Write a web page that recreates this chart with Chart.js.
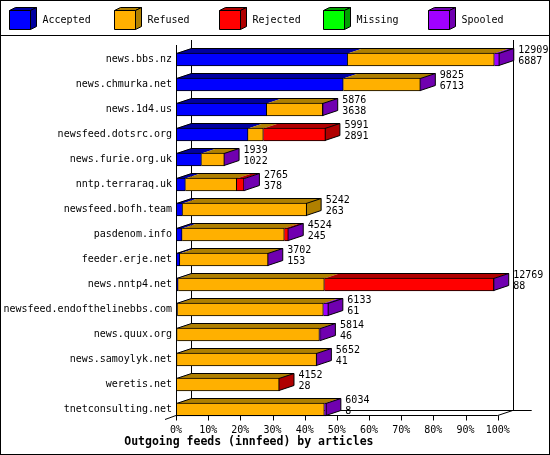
<!DOCTYPE html>
<html>
<head>
<meta charset="utf-8">
<script src="https://cdn.jsdelivr.net/npm/chart.js@4.4.1/dist/chart.umd.min.js"></script>
<style>
  html, body { margin: 0; padding: 0; background: #fff; }
  canvas { display: block; }
</style>
</head>
<body>
<canvas id="feeds" width="550" height="455" style="width:550px;height:455px"></canvas>
<script>
// outgoing feeds, article counts per peer
const hosts = ['news.bbs.nz', 'news.chmurka.net', 'news.1d4.us', 'newsfeed.dotsrc.org',
    'news.furie.org.uk', 'nntp.terraraq.uk', 'newsfeed.bofh.team', 'pasdenom.info',
    'feeder.erje.net', 'news.nntp4.net', 'newsfeed.endofthelinebbs.com', 'news.quux.org',
    'news.samoylyk.net', 'weretis.net', 'tnetconsulting.net'];
const offered  = [12909, 9825, 5876, 5991, 1939, 2765, 5242, 4524, 3702, 12769, 6133, 5814, 5652, 4152, 6034];
const accepted = [6887, 6713, 3638, 2891, 1022, 378, 263, 245, 153, 88, 61, 46, 41, 28, 8];
const refused  = [5886, 3091, 2249, 614, 917, 2056, 4979, 4102, 3539, 5865, 5852, 5710, 5600, 4110, 5945];
const rejected = [0, 0, 0, 2490, 0, 295, 0, 160, 0, 6800, 0, 0, 0, 15, 0];
const missing  = [0, 0, 0, 0, 0, 0, 0, 0, 0, 0, 0, 0, 0, 0, 0];
const spooled  = [200, 20, 20, 0, 10, 36, 0, 17, 10, 16, 200, 58, 11, 0, 80];
const pctTicks = [0, 10, 20, 30, 40, 50, 60, 70, 80, 90, 100];

const seriesNames = ['Accepted', 'Refused', 'Rejected', 'Missing', 'Spooled'];
const faceColors  = ['#0000ff', '#ffb000', '#ff0000', '#00ff00', '#a000ff'];
const shadeColors = ['#0000a0', '#b08000', '#b00000', '#00a000', '#7000b0'];

const maxOffered = Math.max(...offered);
const DX = 15, DY = 5;
const mono = '"DejaVu Sans Mono", monospace';

function poly(c, pts, fill) {
    c.beginPath();
    c.moveTo(pts[0][0], pts[0][1]);
    for (let k = 1; k < pts.length; k++) c.lineTo(pts[k][0], pts[k][1]);
    c.closePath();
    if (fill) { c.fillStyle = fill; c.fill(); }
    c.stroke();
}

function line(c, x1, y1, x2, y2) {
    c.beginPath();
    c.moveTo(x1, y1);
    c.lineTo(x2, y2);
    c.stroke();
}

// spans of each row taken from the bar elements
function rowSpans(chart, i) {
    const segs = [];
    chart.data.datasets.forEach((ds, d) => {
        const el = chart.getDatasetMeta(d).data[i];
        const l = Math.min(el.base, el.x), r = Math.max(el.base, el.x);
        if (r - l > 0.01) segs.push({ d: d, l: l, r: r, top: el.y - el.height / 2, bottom: el.y + el.height / 2 });
    });
    return segs;
}

const box3d = {
    id: 'box3d',
    beforeDraw(chart) {
        const c = chart.ctx;
        c.save();
        c.fillStyle = '#fff';
        c.fillRect(0, 0, chart.width, chart.height);
        c.restore();
    },
    beforeDatasetsDraw(chart) {
        const c = chart.ctx, xs = chart.scales.x, ys = chart.scales.y;
        const L = xs.getPixelForValue(0), R = xs.getPixelForValue(maxOffered);
        const top = Math.round(chart.chartArea.top) - 2;
        const floor = ys.getPixelForValue(hosts.length - 1) + 6;
        c.save();
        c.strokeStyle = '#000';
        c.lineWidth = 1;
        // back walls
        line(c, Math.round(L + DX) + 0.5, top - DY, Math.round(L + DX) + 0.5, floor - DY);
        line(c, Math.round(R + DX) + 0.5, top - DY, Math.round(R + DX) + 0.5, floor - DY);
        line(c, L + DX, floor - DY, R + DX + 19, floor - DY);

        // top and side faces of each stack
        hosts.forEach((h, i) => {
            const segs = rowSpans(chart, i);
            if (!segs.length) return;
            const t = segs[0].top + 0.5, b = segs[0].bottom - 0.5;
            segs.forEach(s => {
                c.beginPath();
                c.moveTo(s.l, t); c.lineTo(s.r, t); c.lineTo(s.r + DX, t - DY); c.lineTo(s.l + DX, t - DY);
                c.closePath();
                c.fillStyle = shadeColors[s.d];
                c.fill();
            });
            const last = segs[segs.length - 1];
            const l0 = segs[0].l + 0.5, r0 = last.r - 0.5;
            poly(c, [[r0, t], [r0 + DX, t - DY], [r0 + DX, b - DY], [r0, b]], shadeColors[last.d]);
            c.beginPath();
            c.moveTo(l0, t); c.lineTo(l0 + DX, t - DY); c.lineTo(r0 + DX, t - DY);
            c.stroke();
        });
        c.restore();
    },
    afterDatasetsDraw(chart) {
        const c = chart.ctx, xs = chart.scales.x, ys = chart.scales.y;
        const L = xs.getPixelForValue(0), R = xs.getPixelForValue(maxOffered);
        const top = Math.round(chart.chartArea.top) - 2;
        const floor = ys.getPixelForValue(hosts.length - 1) + 6;
        c.save();
        c.strokeStyle = '#000';
        c.lineWidth = 1;
        // front frame and ticks
        line(c, Math.round(L) + 0.5, top, Math.round(L) + 0.5, floor);
        line(c, L, floor, R, floor);
        line(c, R, floor, R + DX, floor - DY);
        line(c, L, floor, L - 11, floor + 4);
        xs.ticks.forEach(tk => {
            const px = Math.round(xs.getPixelForValue(tk.value)) + 0.5;
            line(c, px, floor, px, floor + 5);
        });

        // offered / accepted numbers
        c.fillStyle = '#000';
        c.font = '10px ' + mono;
        c.textBaseline = 'middle';
        c.textAlign = 'left';
        hosts.forEach((h, i) => {
            const segs = rowSpans(chart, i);
            const cy = ys.getPixelForValue(i);
            const r = segs.length ? segs[segs.length - 1].r : L;
            c.fillText(String(offered[i]), r + DX + 4, cy - 9.5);
            c.fillText(String(accepted[i]), r + DX + 4, cy + 2);
        });
        c.restore();
    },
    afterDraw(chart) {
        const c = chart.ctx;
        c.save();
        c.strokeStyle = '#000';
        c.lineWidth = 1;
        c.strokeRect(0.5, 0.5, chart.width - 1, chart.height - 1);
        line(c, 0, 35.5, chart.width, 35.5);
        // legend with little 3d boxes
        c.font = '10px ' + mono;
        c.textBaseline = 'middle';
        chart.data.datasets.forEach((ds, d) => {
            const bx = 9.5 + Math.round(d * 104.75), by = 10.5, w = 21, hh = 19;
            poly(c, [[bx, by], [bx + 6, by - 3], [bx + w + 6, by - 3], [bx + w, by]], shadeColors[d]);
            poly(c, [[bx + w, by], [bx + w + 6, by - 3], [bx + w + 6, by + hh - 3], [bx + w, by + hh]], shadeColors[d]);
            poly(c, [[bx, by], [bx + w, by], [bx + w, by + hh], [bx, by + hh]], faceColors[d]);
            c.fillStyle = '#000';
            c.fillText(ds.label, bx + 33, 20);
        });
        c.restore();
    }
};

const series = [accepted, refused, rejected, missing, spooled];

new Chart(document.getElementById('feeds'), {
    type: 'bar',
    data: {
        labels: hosts,
        datasets: series.map((vals, d) => ({
            label: seriesNames[d],
            data: vals,
            backgroundColor: faceColors[d],
            borderColor: '#000',
            borderWidth: 1,
            borderSkipped: 'start',
            barThickness: 13,
            clip: false
        }))
    },
    options: {
        indexAxis: 'y',
        responsive: false,
        animation: false,
        devicePixelRatio: 1,
        layout: {
            padding: { left: 0, right: 52.3, top: 47, bottom: 0 }
        },
        plugins: {
            legend: { display: false },
            tooltip: { enabled: false },
            title: {
                display: true,
                position: 'bottom',
                text: 'Outgoing feeds (innfeed) by articles',
                color: '#000',
                font: { family: mono, size: 11.5, weight: 'bold' },
                padding: { top: 0, bottom: 6 }
            }
        },
        scales: {
            x: {
                stacked: true,
                min: 0,
                max: maxOffered,
                afterBuildTicks: (scale) => {
                    scale.ticks = pctTicks.map(p => ({ value: maxOffered * p / 100 }));
                },
                afterFit: (scale) => { scale.height = 13.2; },
                ticks: {
                    autoSkip: false,
                    maxRotation: 0,
                    padding: 2,
                    color: '#000',
                    font: { family: mono, size: 10 },
                    callback: (v) => Math.round(v / maxOffered * 100) + '%'
                },
                grid: { display: false, drawTicks: false },
                border: { display: false }
            },
            y: {
                stacked: true,
                afterFit: (scale) => { scale.width = 176; },
                ticks: {
                    padding: 4,
                    color: '#000',
                    font: { family: mono, size: 10 }
                },
                grid: { display: false, drawTicks: false },
                border: { display: false }
            }
        }
    },
    plugins: [box3d]
});
</script>
</body>
</html>
